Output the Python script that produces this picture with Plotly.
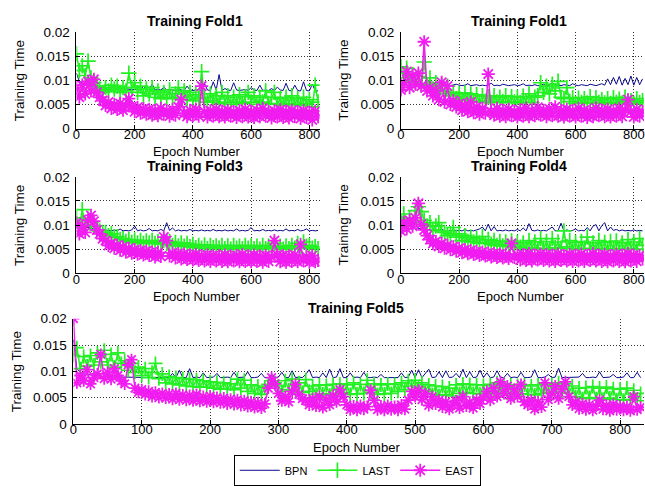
import plotly.graph_objects as go

# Epoch axes: folds 1-4 are sampled every 10 epochs, fold 5 every 5 epochs
epochs = list(range(0, 840, 10))
epochs_fine = list(range(0, 835, 5))

fold_titles = ["Training Fold1", "Training Fold1", "Training Fold3",
               "Training Fold4", "Training Fold5"]
series_names = ["BPN", "LAST", "EAST"]

# ---------------- Fold 1 ----------------
fold1_bpn = [
    0.0115, 0.0098, 0.0095, 0.0093, 0.0092, 0.009, 0.0089, 0.0088, 0.0087, 0.0086,
    0.0086, 0.0085, 0.0085, 0.0084, 0.0084, 0.0083, 0.0083, 0.0082, 0.0082, 0.0081,
    0.0081, 0.0081, 0.008, 0.0088, 0.008, 0.0081, 0.0092, 0.008, 0.0081, 0.008,
    0.0086, 0.008, 0.0081, 0.008, 0.0079, 0.0083, 0.008, 0.0079, 0.0088, 0.008,
    0.0079, 0.008, 0.0081, 0.0079, 0.0093, 0.008, 0.0079, 0.0097, 0.008, 0.0112,
    0.0079, 0.0083, 0.008, 0.0079, 0.0095, 0.008, 0.0079, 0.008, 0.0081, 0.0079,
    0.0085, 0.008, 0.0079, 0.009, 0.0079, 0.008, 0.0079, 0.0083, 0.0079, 0.0086,
    0.008, 0.0079, 0.0094, 0.0079, 0.0078, 0.009, 0.0079, 0.0078, 0.0097, 0.0079,
    0.0078, 0.0092, 0.0079, 0.0078]
fold1_last = [
    0.0155, 0.012, 0.013, 0.011, 0.014, 0.0105, 0.0095, 0.0088, 0.0082, 0.0075,
    0.0085, 0.0078, 0.009, 0.0082, 0.0088, 0.0075, 0.0085, 0.0078, 0.0115, 0.0085,
    0.0095, 0.0075, 0.0088, 0.0068, 0.0082, 0.0072, 0.0085, 0.0065, 0.0078, 0.0062,
    0.0075, 0.0065, 0.008, 0.0062, 0.0072, 0.0085, 0.0065, 0.0078, 0.006, 0.0075,
    0.0058, 0.007, 0.0062, 0.0118, 0.0065, 0.0055, 0.0072, 0.0058, 0.0068, 0.0052,
    0.0075, 0.0055, 0.0068, 0.005, 0.0065, 0.0055, 0.007, 0.0052, 0.0066, 0.0075,
    0.0055, 0.0068, 0.005, 0.0065, 0.0055, 0.0078, 0.0052, 0.0065, 0.0075, 0.005,
    0.0062, 0.0048, 0.0065, 0.0052, 0.0068, 0.005, 0.0062, 0.0048, 0.0065, 0.0052,
    0.006, 0.0045, 0.009, 0.0055]
fold1_east = [
    0.0085, 0.0065, 0.009, 0.0072, 0.0098, 0.0078, 0.0102, 0.0075, 0.0065, 0.0058,
    0.0048, 0.0055, 0.0042, 0.005, 0.004, 0.0052, 0.0038, 0.0047, 0.0062, 0.0045,
    0.0035, 0.0044, 0.0032, 0.0041, 0.003, 0.004, 0.0028, 0.0038, 0.0027, 0.0042,
    0.003, 0.0037, 0.0026, 0.0039, 0.0028, 0.0045, 0.006, 0.0032, 0.0025, 0.0038,
    0.0027, 0.004, 0.0026, 0.0088, 0.0035, 0.0024, 0.0037, 0.0026, 0.004, 0.0025,
    0.0036, 0.0024, 0.0038, 0.0026, 0.0035, 0.0023, 0.0037, 0.0025, 0.004, 0.0024,
    0.0036, 0.0023, 0.0038, 0.0025, 0.0042, 0.0026, 0.0035, 0.0022, 0.0037, 0.0024,
    0.0039, 0.0023, 0.0036, 0.0022, 0.0038, 0.0025, 0.0035, 0.0021, 0.0037, 0.0023,
    0.0034, 0.0018, 0.0036, 0.0025]

# ---------------- Fold 2 (second "Fold1" panel) ----------------
fold2_bpn = [
    0.0125, 0.0105, 0.01, 0.0098, 0.0096, 0.0095, 0.0094, 0.0093, 0.0092, 0.0092,
    0.0091, 0.0091, 0.009, 0.0097, 0.009, 0.0094, 0.009, 0.0089, 0.009, 0.0092,
    0.009, 0.0089, 0.009, 0.0093, 0.0089, 0.009, 0.0091, 0.0089, 0.009, 0.0089,
    0.009, 0.0094, 0.0089, 0.009, 0.0089, 0.0092, 0.009, 0.0089, 0.009, 0.0091,
    0.0089, 0.009, 0.0093, 0.0089, 0.009, 0.0089, 0.0091, 0.0089, 0.009, 0.0092,
    0.0089, 0.009, 0.0095, 0.0089, 0.009, 0.0089, 0.0091, 0.009, 0.0089, 0.0093,
    0.009, 0.0089, 0.0091, 0.009, 0.0089, 0.0092, 0.009, 0.0089, 0.0091, 0.0093,
    0.009, 0.0103, 0.0091, 0.0106, 0.0092, 0.0108, 0.009, 0.0104, 0.0091, 0.0109,
    0.009, 0.0106, 0.0091, 0.0103]
fold2_last = [
    0.0128, 0.0105, 0.0125, 0.0098, 0.0112, 0.0095, 0.0108, 0.009, 0.0138, 0.0088,
    0.0105, 0.0082, 0.0095, 0.0078, 0.009, 0.0072, 0.0088, 0.0068, 0.0075, 0.0062,
    0.0072, 0.006, 0.0074, 0.0058, 0.0072, 0.0056, 0.007, 0.0055, 0.0068, 0.0057,
    0.0066, 0.0054, 0.0068, 0.0055, 0.0065, 0.0056, 0.0068, 0.0054, 0.0066, 0.0055,
    0.0065, 0.0053, 0.0067, 0.0055, 0.0072, 0.0054, 0.0065, 0.0068, 0.0095, 0.0075,
    0.0088, 0.0072, 0.0092, 0.0078, 0.0098, 0.0065, 0.0062, 0.0085, 0.0056, 0.0064,
    0.0052, 0.0063, 0.0054, 0.0062, 0.0053, 0.0066, 0.0052, 0.0064, 0.0054, 0.006,
    0.0053, 0.0062, 0.0052, 0.0064, 0.0054, 0.0061, 0.0053, 0.0065, 0.0055, 0.0058,
    0.0052, 0.0062, 0.0054, 0.0058]
fold2_east = [
    0.008, 0.0095, 0.0118, 0.0085, 0.011, 0.0092, 0.0115, 0.0088, 0.018, 0.0078,
    0.0085, 0.0068, 0.0078, 0.006, 0.0096, 0.0055, 0.0088, 0.005, 0.0058, 0.0045,
    0.0052, 0.0038, 0.0048, 0.0035, 0.0055, 0.0033, 0.0045, 0.003, 0.0042, 0.0032,
    0.0113, 0.0035, 0.0028, 0.0042, 0.0026, 0.0038, 0.0025, 0.004, 0.0027, 0.0036,
    0.0024, 0.0039, 0.0026, 0.0042, 0.0025, 0.0037, 0.0027, 0.0044, 0.0028, 0.0038,
    0.0025, 0.0041, 0.0027, 0.0045, 0.0026, 0.0038, 0.0024, 0.004, 0.0026, 0.0037,
    0.0024, 0.0042, 0.0026, 0.0038, 0.0023, 0.0036, 0.0025, 0.0043, 0.0027, 0.0038,
    0.0025, 0.004, 0.0024, 0.0037, 0.0026, 0.0042, 0.0025, 0.0039, 0.006, 0.0036,
    0.0024, 0.004, 0.0026, 0.0035]

# ---------------- Fold 3 ----------------
fold3_bpn = [
    0.0115, 0.0102, 0.0098, 0.0096, 0.0095, 0.0094, 0.0093, 0.0092, 0.0091, 0.009,
    0.009, 0.0089, 0.0088, 0.009, 0.0088, 0.0092, 0.0088, 0.0089, 0.0088, 0.009,
    0.0098, 0.0088, 0.009, 0.0088, 0.0089, 0.0093, 0.0088, 0.0089, 0.0088, 0.0091,
    0.0088, 0.0105, 0.0089, 0.0094, 0.0088, 0.009, 0.0088, 0.0089, 0.0088, 0.0091,
    0.0088, 0.0089, 0.0088, 0.009, 0.0088, 0.0089, 0.0088, 0.0091, 0.0088, 0.0089,
    0.0088, 0.009, 0.0088, 0.0089, 0.0088, 0.0092, 0.0088, 0.0089, 0.0088, 0.0089,
    0.0095, 0.0088, 0.0089, 0.0088, 0.0091, 0.0088, 0.0089, 0.0088, 0.009, 0.0088,
    0.0089, 0.0088, 0.0092, 0.0088, 0.0089, 0.0088, 0.0091, 0.0088, 0.0089, 0.0092,
    0.0088, 0.0089, 0.0088, 0.0089]
fold3_last = [
    0.0115, 0.0095, 0.0132, 0.01, 0.0112, 0.0105, 0.0098, 0.009, 0.0088, 0.0085,
    0.0085, 0.0078, 0.0082, 0.0075, 0.0076, 0.007, 0.0072, 0.0066, 0.007, 0.0064,
    0.0069, 0.0063, 0.0068, 0.0062, 0.0067, 0.0063, 0.0068, 0.0062, 0.0066, 0.0061,
    0.0068, 0.0062, 0.0066, 0.0058, 0.0064, 0.0057, 0.0063, 0.0056, 0.0062, 0.0055,
    0.006, 0.0053, 0.0058, 0.0052, 0.0059, 0.0051, 0.0058, 0.0053, 0.0057, 0.0052,
    0.0058, 0.0051, 0.0057, 0.005, 0.0058, 0.0052, 0.0056, 0.0051, 0.0058, 0.0052,
    0.0057, 0.0051, 0.0056, 0.005, 0.0058, 0.0051, 0.0057, 0.0052, 0.0062, 0.0053,
    0.0056, 0.005, 0.0057, 0.0051, 0.0058, 0.0052, 0.0062, 0.0053, 0.0065, 0.0056,
    0.0058, 0.0052, 0.0055, 0.0051]
fold3_east = [
    0.0105, 0.0082, 0.0098, 0.0085, 0.011, 0.012, 0.0108, 0.009, 0.0082, 0.0072,
    0.0068, 0.0058, 0.0062, 0.0052, 0.0058, 0.0048, 0.0055, 0.0044, 0.0052, 0.0042,
    0.0049, 0.004, 0.0047, 0.0038, 0.0046, 0.0037, 0.0044, 0.0034, 0.0043, 0.0035,
    0.0075, 0.0068, 0.0036, 0.0042, 0.0032, 0.0041, 0.003, 0.004, 0.0029, 0.0038,
    0.0028, 0.0039, 0.0027, 0.0037, 0.0026, 0.0038, 0.0025, 0.0037, 0.0026, 0.0036,
    0.0025, 0.0038, 0.0024, 0.0036, 0.0026, 0.0037, 0.0024, 0.0039, 0.0025, 0.0036,
    0.0024, 0.0038, 0.0025, 0.0036, 0.0023, 0.0037, 0.0025, 0.0035, 0.0068, 0.0038,
    0.0024, 0.0037, 0.0023, 0.0036, 0.0025, 0.0038, 0.0024, 0.006, 0.0026, 0.0035,
    0.0023, 0.0037, 0.0024, 0.0027]

# ---------------- Fold 4 ----------------
fold4_bpn = [
    0.012, 0.0104, 0.0099, 0.0097, 0.0095, 0.0094, 0.0093, 0.0092, 0.0091, 0.009,
    0.009, 0.0089, 0.0089, 0.0088, 0.0092, 0.0088, 0.0089, 0.0088, 0.009, 0.0088,
    0.0089, 0.0088, 0.0091, 0.0088, 0.0089, 0.0088, 0.009, 0.0092, 0.0096, 0.0088,
    0.0102, 0.0088, 0.0097, 0.0088, 0.0089, 0.0088, 0.009, 0.0088, 0.0089, 0.0088,
    0.0091, 0.0088, 0.0094, 0.0088, 0.0103, 0.0089, 0.0088, 0.009, 0.0088, 0.0089,
    0.0088, 0.0092, 0.0096, 0.0088, 0.0089, 0.0104, 0.0088, 0.009, 0.0088, 0.0089,
    0.0092, 0.0088, 0.0089, 0.0088, 0.0095, 0.0088, 0.0098, 0.0101, 0.0088, 0.0099,
    0.0105, 0.0088, 0.0096, 0.0089, 0.0091, 0.0088, 0.009, 0.0088, 0.0089, 0.0088,
    0.009, 0.0088, 0.0089, 0.0088]
fold4_last = [
    0.0105, 0.0123, 0.0098, 0.0115, 0.0105, 0.013, 0.0138, 0.0128, 0.011, 0.0098,
    0.0105, 0.009, 0.0098, 0.0105, 0.0088, 0.0085, 0.0078, 0.0082, 0.0095, 0.0075,
    0.0082, 0.0068, 0.0078, 0.0066, 0.0075, 0.0065, 0.0072, 0.0063, 0.0076, 0.0062,
    0.007, 0.006, 0.0068, 0.0058, 0.0066, 0.0057, 0.0065, 0.0056, 0.0067, 0.0055,
    0.0064, 0.0054, 0.0063, 0.0052, 0.0068, 0.0053, 0.0065, 0.0051, 0.0072, 0.0052,
    0.0066, 0.005, 0.0072, 0.0053, 0.0065, 0.0052, 0.0088, 0.0055, 0.0068, 0.0051,
    0.0064, 0.005, 0.0066, 0.0052, 0.0075, 0.0051, 0.0063, 0.005, 0.0068, 0.0052,
    0.0064, 0.005, 0.0066, 0.0049, 0.0067, 0.0051, 0.0063, 0.005, 0.007, 0.0052,
    0.0065, 0.005, 0.0072, 0.0058]
fold4_east = [
    0.0088, 0.0105, 0.0092, 0.011, 0.0098, 0.0115, 0.0145, 0.0102, 0.009, 0.0078,
    0.007, 0.0062, 0.0066, 0.0056, 0.0062, 0.0052, 0.0058, 0.0049, 0.0055, 0.0046,
    0.0052, 0.0043, 0.0049, 0.0041, 0.0047, 0.0039, 0.0045, 0.0037, 0.0044, 0.0036,
    0.0042, 0.0034, 0.0041, 0.0033, 0.004, 0.0032, 0.0039, 0.0031, 0.0062, 0.0033,
    0.0038, 0.0028, 0.0039, 0.0027, 0.0041, 0.0026, 0.0038, 0.0028, 0.004, 0.0027,
    0.0039, 0.0026, 0.0038, 0.0025, 0.004, 0.0027, 0.0037, 0.0026, 0.0039, 0.0025,
    0.0038, 0.0026, 0.004, 0.0025, 0.0037, 0.0027, 0.0041, 0.0026, 0.0038, 0.0025,
    0.0039, 0.0024, 0.0037, 0.0026, 0.004, 0.0025, 0.0038, 0.0024, 0.0041, 0.0026,
    0.0038, 0.0025, 0.0037, 0.003]

# ---------------- Fold 5 (every 5 epochs) ----------------
fold5_bpn = [
    0.016, 0.0105, 0.0098, 0.0095, 0.0094, 0.0093, 0.0092, 0.0091, 0.009, 0.009,
    0.009, 0.0089, 0.0089, 0.0089, 0.0089, 0.0089, 0.0088, 0.0088, 0.0088, 0.0088,
    0.0088, 0.0088, 0.0088, 0.0088, 0.0088, 0.0088, 0.0088, 0.0088, 0.0088, 0.0096,
    0.0088, 0.0102, 0.0088, 0.0088, 0.0105, 0.0088, 0.0089, 0.0088, 0.0097, 0.0088,
    0.0088, 0.0089, 0.0096, 0.0088, 0.0088, 0.0089, 0.0088, 0.0098, 0.0088, 0.0088,
    0.0089, 0.0099, 0.0088, 0.0088, 0.0089, 0.0096, 0.0088, 0.0088, 0.0094, 0.0088,
    0.0089, 0.0098, 0.0088, 0.0088, 0.0101, 0.0088, 0.0089, 0.0088, 0.0094, 0.0103,
    0.0088, 0.0089, 0.0088, 0.0097, 0.0088, 0.0104, 0.0088, 0.0089, 0.0105, 0.0088,
    0.0088, 0.0097, 0.0088, 0.0089, 0.0088, 0.0098, 0.0088, 0.0088, 0.0089, 0.0088,
    0.0094, 0.0088, 0.0088, 0.0089, 0.0088, 0.0088, 0.0097, 0.0088, 0.0089, 0.0102,
    0.0088, 0.0103, 0.0088, 0.0095, 0.0104, 0.0088, 0.0089, 0.0099, 0.0088, 0.0101,
    0.0088, 0.0089, 0.0096, 0.0088, 0.0104, 0.0088, 0.0099, 0.0088, 0.0089, 0.0102,
    0.0088, 0.0097, 0.0088, 0.0089, 0.0101, 0.0088, 0.0088, 0.0096, 0.0088, 0.0089,
    0.0088, 0.0098, 0.0088, 0.0088, 0.0089, 0.0103, 0.0088, 0.0088, 0.0089, 0.0094,
    0.0088, 0.0089, 0.0106, 0.0088, 0.0088, 0.0089, 0.0088, 0.0088, 0.0089, 0.0096,
    0.0088, 0.0088, 0.0089, 0.0088, 0.0099, 0.0088, 0.0088, 0.0089, 0.0094, 0.0088,
    0.0088, 0.0089, 0.0097, 0.0088, 0.0088, 0.0098, 0.0088]
fold5_last = [
    0.013, 0.0145, 0.0105, 0.0128, 0.011, 0.013, 0.0112, 0.0135, 0.0118, 0.014,
    0.0112, 0.0132, 0.0108, 0.0135, 0.0115, 0.012, 0.0102, 0.0115, 0.0098, 0.0108,
    0.0092, 0.0105, 0.0088, 0.0098, 0.0115, 0.0086, 0.0095, 0.0078, 0.009, 0.0076,
    0.0088, 0.0074, 0.0086, 0.0072, 0.0085, 0.0071, 0.0084, 0.007, 0.0082, 0.007,
    0.008, 0.0068, 0.0079, 0.0066, 0.0078, 0.0066, 0.0076, 0.0065, 0.0085, 0.0068,
    0.0083, 0.0062, 0.0074, 0.0058, 0.0072, 0.0056, 0.007, 0.0075, 0.0082, 0.0078,
    0.0072, 0.0062, 0.0082, 0.0065, 0.0085, 0.0062, 0.0078, 0.006, 0.0084, 0.0062,
    0.0072, 0.0056, 0.0074, 0.0057, 0.0073, 0.0055, 0.0075, 0.0058, 0.0076, 0.0059,
    0.0074, 0.0056, 0.0078, 0.0057, 0.0075, 0.0058, 0.0083, 0.006, 0.0076, 0.0056,
    0.0074, 0.0057, 0.0076, 0.0058, 0.0075, 0.0062, 0.0078, 0.0065, 0.0082, 0.0072,
    0.0083, 0.007, 0.0078, 0.0062, 0.0074, 0.0056, 0.0072, 0.0054, 0.0071, 0.0055,
    0.0068, 0.0053, 0.0074, 0.0058, 0.0076, 0.006, 0.0075, 0.0058, 0.0074, 0.0057,
    0.0073, 0.0058, 0.0075, 0.006, 0.0078, 0.0062, 0.0076, 0.0058, 0.0074, 0.0056,
    0.0073, 0.0057, 0.0074, 0.0056, 0.0072, 0.0055, 0.0074, 0.0058, 0.0076, 0.006,
    0.0075, 0.0062, 0.0078, 0.006, 0.0076, 0.0058, 0.0072, 0.0052, 0.0068, 0.0048,
    0.0069, 0.005, 0.0071, 0.0048, 0.0068, 0.0047, 0.007, 0.0049, 0.0067, 0.0046,
    0.0066, 0.0045, 0.0068, 0.0046, 0.0064, 0.0044, 0.0058]
fold5_east = [
    0.02, 0.0078, 0.0092, 0.0082, 0.0103, 0.0076, 0.0088, 0.0095, 0.0132, 0.0086,
    0.0098, 0.0085, 0.0105, 0.0092, 0.0082, 0.0076, 0.0112, 0.0122, 0.0068, 0.006,
    0.0065, 0.0056, 0.0062, 0.0052, 0.006, 0.005, 0.0058, 0.0049, 0.0057, 0.0047,
    0.0058, 0.0046, 0.0055, 0.0045, 0.0054, 0.0044, 0.0056, 0.0043, 0.0052, 0.0042,
    0.0053, 0.0041, 0.005, 0.004, 0.0049, 0.0038, 0.0047, 0.0037, 0.0046, 0.0035,
    0.0044, 0.0033, 0.0042, 0.0031, 0.004, 0.003, 0.0038, 0.0068, 0.0088, 0.0076,
    0.0058, 0.0044, 0.0052, 0.0042, 0.0062, 0.0075, 0.0056, 0.0048, 0.0044, 0.0036,
    0.0048, 0.0034, 0.0052, 0.0031, 0.0046, 0.0036, 0.0054, 0.0042, 0.0065, 0.0052,
    0.0036, 0.0027, 0.0034, 0.0026, 0.0035, 0.0028, 0.0033, 0.0064, 0.0045, 0.0027,
    0.0034, 0.0026, 0.0035, 0.0027, 0.0033, 0.0026, 0.0036, 0.0028, 0.0045, 0.0062,
    0.0052, 0.0064, 0.0046, 0.0058, 0.0035, 0.0052, 0.0038, 0.0045, 0.0032, 0.0042,
    0.0028, 0.0036, 0.0044, 0.003, 0.0052, 0.0034, 0.0041, 0.003, 0.0046, 0.0038,
    0.005, 0.0062, 0.0045, 0.0068, 0.0052, 0.008, 0.0058, 0.0072, 0.0048, 0.0066,
    0.0052, 0.0075, 0.0042, 0.0036, 0.0045, 0.0028, 0.0042, 0.0032, 0.0078, 0.0046,
    0.0058, 0.0072, 0.0048, 0.0066, 0.008, 0.0052, 0.0036, 0.0042, 0.0029, 0.0038,
    0.0027, 0.0036, 0.0026, 0.0034, 0.0045, 0.0028, 0.0035, 0.0025, 0.0037, 0.0027,
    0.0034, 0.0026, 0.0033, 0.0025, 0.0052, 0.0027, 0.0032]

fold_data = [
    (fold1_bpn, fold1_last, fold1_east),
    (fold2_bpn, fold2_last, fold2_east),
    (fold3_bpn, fold3_last, fold3_east),
    (fold4_bpn, fold4_last, fold4_east),
    (fold5_bpn, fold5_last, fold5_east),
]
fold_epochs = [epochs, epochs, epochs, epochs, epochs_fine]
for xs, series in zip(fold_epochs, fold_data):
    for s in series:
        assert len(s) == len(xs), (len(s), len(xs))

y_ticks = [0, 0.005, 0.01, 0.015, 0.02]
y_tick_text = ["0", "0.005", "0.01", "0.015", "0.02"]
x_ticks_small = [0, 200, 400, 600, 800]
x_ticks_wide = [0, 100, 200, 300, 400, 500, 600, 700, 800]

# ---------------- styling ----------------
W, H = 645, 486
FONT = "Liberation Sans, Arial, Helvetica, sans-serif"
C_BPN = "#0a0a8c"
C_LAST = "#22f022"
C_EAST = "#f01cf0"
GRID = "#333333"

# panel boxes in pixels: (left, right, top, bottom)
panels = [
    (73, 318, 26, 126),
    (400, 645, 26, 126),
    (73, 318, 176, 276),
    (400, 645, 176, 276),
    (70, 645, 323, 432),
]

fig = go.Figure()
layout = dict(
    width=W, height=H,
    margin=dict(l=0, r=0, t=0, b=0),
    paper_bgcolor="white", plot_bgcolor="white",
    font=dict(family=FONT, size=13.5, color="black"),
    showlegend=True,
    legend=dict(
        orientation="h", x=356 / W, xanchor="center", y=1 - 464 / H, yanchor="top",
        bgcolor="white", bordercolor="black", borderwidth=1,
        font=dict(size=11), itemwidth=40, traceorder="normal",
        tracegroupgap=0,
    ),
    annotations=[],
)

for i, (box, xs, series) in enumerate(zip(panels, fold_epochs, fold_data)):
    left, right, top, bottom = box
    sfx = "" if i == 0 else str(i + 1)
    xa, ya = "x" + sfx, "y" + sfx
    bpn, last, east = series
    msize = 10 if i == 4 else 11
    lw = 1.5
    fig.add_trace(go.Scatter(
        x=xs, y=bpn, xaxis=xa, yaxis=ya, mode="lines", name="BPN",
        line=dict(color=C_BPN, width=1), showlegend=(i == 0), legendgroup="BPN"))
    fig.add_trace(go.Scatter(
        x=xs, y=last, xaxis=xa, yaxis=ya, mode="lines+markers", name="LAST",
        line=dict(color=C_LAST, width=lw),
        marker=dict(symbol="cross-thin", size=msize, color=C_LAST,
                    line=dict(color=C_LAST, width=1.7)),
        showlegend=(i == 0), legendgroup="LAST"))
    fig.add_trace(go.Scatter(
        x=xs, y=east, xaxis=xa, yaxis=ya, mode="lines+markers", name="EAST",
        line=dict(color=C_EAST, width=lw),
        marker=dict(symbol="asterisk", size=msize, color=C_EAST,
                    line=dict(color=C_EAST, width=1.8)),
        showlegend=(i == 0), legendgroup="EAST"))

    xticks = x_ticks_wide if i == 4 else x_ticks_small
    layout["xaxis" + sfx] = dict(
        domain=[left / W, right / W], anchor=ya, range=[0, 835],
        tickvals=xticks, ticktext=[str(t) for t in xticks],
        ticks="inside", ticklen=4, tickcolor="black",
        showline=True, linecolor="black", linewidth=1, mirror=False,
        showgrid=True, gridcolor=GRID, griddash="1px,2px", gridwidth=1,
        zeroline=False, tickfont=dict(size=13),
        ticklabelstandoff=-6, ticklabeloverflow="allow",
    )
    layout["yaxis" + sfx] = dict(
        domain=[1 - bottom / H, 1 - top / H], anchor=xa, range=[0, 0.02],
        tickvals=y_ticks, ticktext=y_tick_text,
        ticks="inside", ticklen=4, tickcolor="black",
        showline=True, linecolor="black", linewidth=1, mirror=False,
        showgrid=True, gridcolor=GRID, griddash="1px,2px", gridwidth=1,
        zeroline=False, tickfont=dict(size=13.5), ticklabelstandoff=3,
    )

    cx = (left + right) / 2
    # panel title
    layout["annotations"].append(dict(
        text="<b>%s</b>" % fold_titles[i], x=(cx - 3) / W, y=1 - (top - 11) / H,
        xref="paper", yref="paper", xanchor="center", yanchor="middle",
        showarrow=False, font=dict(size=14, family=FONT)))
    # x-axis title
    layout["annotations"].append(dict(
        text="Epoch Number", x=(cx - 2) / W, y=1 - (bottom + 24) / H,
        xref="paper", yref="paper", xanchor="center", yanchor="middle",
        showarrow=False, font=dict(size=13, family=FONT)))
    # y-axis title
    layout["annotations"].append(dict(
        text="Training Time", x=(left - 58) / W, y=1 - ((top + bottom) / 2) / H,
        xref="paper", yref="paper", xanchor="center", yanchor="middle",
        textangle=-90, showarrow=False, font=dict(size=13.5, family=FONT)))

fig.update_layout(**layout)
fig.write_html("out.html")
